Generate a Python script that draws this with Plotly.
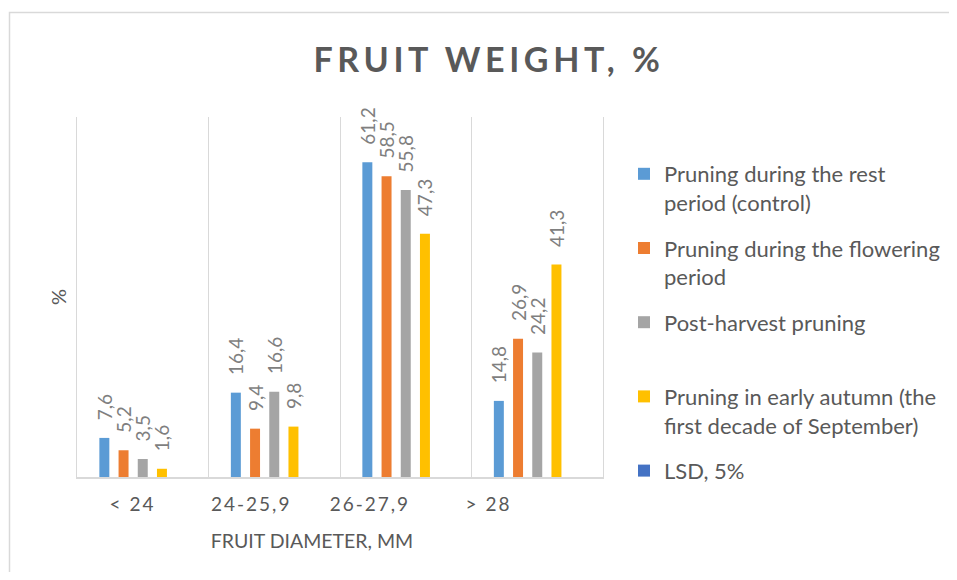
import plotly.graph_objects as go

categories = ["< 24", "24-25,9", "26-27,9", "> 28"]
series_names = [
    "Pruning during the rest<br>period (control)",
    "Pruning during the flowering<br>period",
    "Post-harvest pruning<br> ",
    "Pruning in early autumn (the<br>first decade of September)",
    "LSD, 5%",
]
control = [7.6, 16.4, 61.2, 14.8]
flowering = [5.2, 9.4, 58.5, 26.9]
post_harvest = [3.5, 16.6, 55.8, 24.2]
early_autumn = [1.6, 9.8, 47.3, 41.3]
lsd = [None, None, None, None]
colors = ["#5B9BD5", "#ED7D31", "#A5A5A5", "#FFC000", "#4472C4"]

FONT = "Lato"
OFF = 8  # page body margin
W, H = 957 - 2 * OFF, 580 - 2 * OFF
ML, MT = 77 - OFF, 117 - OFF
MR = W - (603 - OFF)
MB = H - (477 - OFF)
PW = W - ML - MR
PH = H - MT - MB


def sx(px):  # screen x -> paper x (plot-area relative)
    return (px - OFF - ML) / PW


def sy(py):  # screen y -> paper y
    return (H - MB - (py - OFF)) / PH


fig = go.Figure()
for i, (name, vals) in enumerate(zip(series_names,
                                     [control, flowering, post_harvest, early_autumn, lsd])):
    has = vals[0] is not None
    fig.add_trace(go.Bar(
        x=categories, y=vals, name=name,
        marker=dict(color=colors[i], line=dict(width=0)),
        texttemplate="\u00a0\u00a0\u00a0%{y:.1f}" if has else None,
        textposition="outside" if has else "none", textangle=-90, constraintext="none",
        cliponaxis=False,
        textfont=dict(family=FONT, size=19, color="#7F7F7F"),
        legendgroup=f"g{i}",
        xaxis="x", yaxis="y",
    ))

# empty helper trace so the label axis (x2) is drawn
fig.add_trace(go.Scatter(x=[], y=[], xaxis="x2", yaxis="y", showlegend=False,
                         hoverinfo="skip", mode="markers"))

fig.update_layout(
    width=W, height=H,
    margin=dict(l=ML, r=MR, t=MT, b=MB, autoexpand=False),
    paper_bgcolor="white", plot_bgcolor="rgba(0,0,0,0)",
    separators=",.",
    barmode="group", bargap=0.27, bargroupgap=0.48,
    title=dict(text="<span style='letter-spacing:4.6px'><b>FRUIT WEIGHT, %</b></span>",
               x=(489 - OFF) / W, xanchor="center",
               y=1 - (60 - OFF) / H, yanchor="middle",
               font=dict(family=FONT, size=34, color="#595959")),
    xaxis=dict(type="category", range=[-0.5, 3.5], tickson="boundaries",
               showgrid=True, gridcolor="#D9D9D9", gridwidth=1.3,
               showticklabels=False, ticks="",
               showline=True, linecolor="#D9D9D9", linewidth=1.5,
               zeroline=False),
    xaxis2=dict(anchor="y", domain=[0, 0.8935], range=[-0.4676, 3.492],
                tickvals=[0, 1, 2, 3],
                ticktext=[f"<span style='letter-spacing:2px'>{c}</span>" for c in categories],
                showgrid=False, zeroline=False, showline=False, ticks="",
                ticklabelstandoff=14,
                tickfont=dict(family=FONT, size=19, color="#595959"),
                title=dict(text="FRUIT DIAMETER, MM", standoff=20,
                           font=dict(family=FONT, size=19.5, color="#595959"))),
    yaxis=dict(range=[0, 70], showgrid=False, showticklabels=False, ticks="",
               zeroline=False, showline=True, mirror=True,
               linecolor="#D9D9D9", linewidth=1.3,
               title=dict(text="%", standoff=3,
                          font=dict(family=FONT, size=20, color="#595959"))),
    legend=dict(x=sx(624), xanchor="left", y=sy(153), yanchor="top",
                font=dict(family=FONT, size=22, color="#595959"),
                valign="top", tracegroupgap=14, bgcolor="rgba(0,0,0,0)"),
    shapes=[dict(type="rect", xref="paper", yref="paper",
                 x0=sx(9.5), x1=sx(1000),
                 y0=sy(700), y1=sy(12.5),
                 line=dict(color="#D9D9D9", width=1.5), layer="below")],
)

fig.write_html("out.html")
